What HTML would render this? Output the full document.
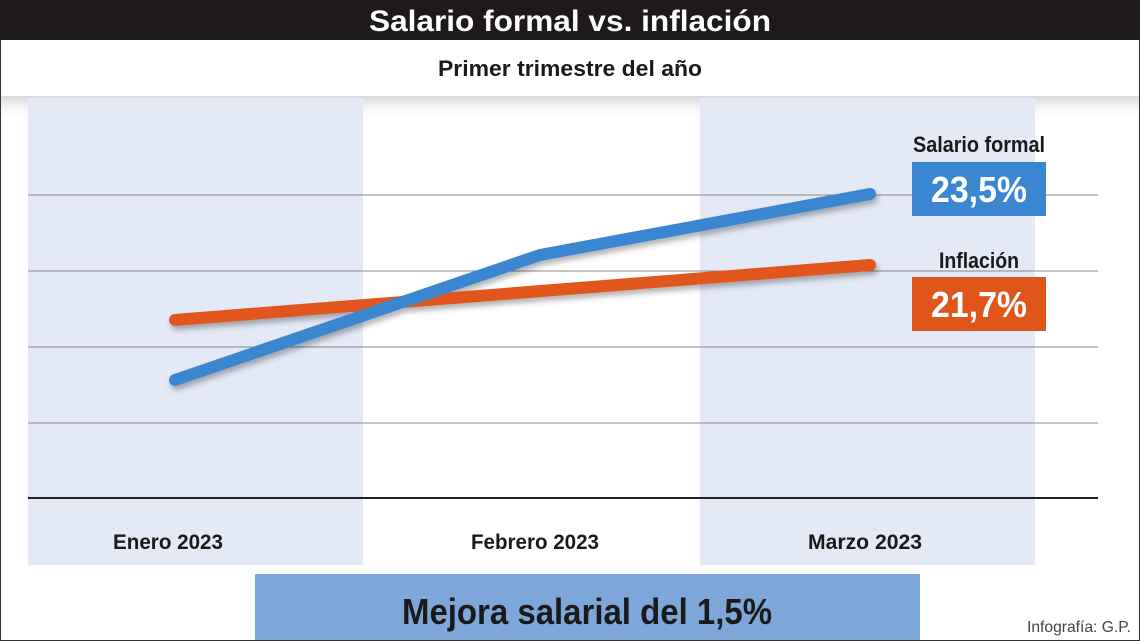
<!DOCTYPE html>
<html><head><meta charset="utf-8"><style>
html,body{margin:0;padding:0;background:#fff;}
svg{display:block}
text{font-family:"Liberation Sans Narrow","Liberation Sans",sans-serif;font-weight:bold;}
</style></head><body>
<svg width="1140" height="641" viewBox="0 0 1140 641">
<defs>
<linearGradient id="sh" x1="0" y1="0" x2="0" y2="1"><stop offset="0" stop-color="#d8d8d8"/><stop offset="1" stop-color="#fff" stop-opacity="0"/></linearGradient>
<filter id="ds" x="-10%" y="-50%" width="120%" height="200%"><feDropShadow dx="2" dy="4" stdDeviation="3" flood-color="#000" flood-opacity="0.3"/></filter>
</defs>
<rect x="0" y="0" width="1140" height="641" fill="#fff"/>
<rect x="0" y="0" width="1140" height="40" fill="#1e1a1a"/>
<text x="570" y="31" text-anchor="middle" fill="#fff" font-size="30" textLength="402" lengthAdjust="spacingAndGlyphs">Salario formal vs. inflación</text>
<text x="570" y="76" text-anchor="middle" fill="#1a1a1a" font-size="22" textLength="264" lengthAdjust="spacingAndGlyphs">Primer trimestre del año</text>
<rect x="1" y="96" width="1138" height="24" fill="url(#sh)"/>
<rect x="28" y="98" width="335" height="467" fill="#e3e9f5"/>
<rect x="700" y="98" width="335" height="467" fill="#e3e9f5"/>
<g stroke="#8a8a8a" stroke-width="1">
<line x1="28" y1="195" x2="1098" y2="195"/>
<line x1="28" y1="271" x2="1098" y2="271"/>
<line x1="28" y1="347" x2="1098" y2="347"/>
<line x1="28" y1="423" x2="1098" y2="423"/>
</g>
<line x1="28" y1="498" x2="1098" y2="498" stroke="#222" stroke-width="2"/>
<g filter="url(#ds)" fill="none" stroke-linecap="round" stroke-linejoin="round" stroke-width="12">
<polyline points="175,320 870,265" stroke="#e0561a"/>
<polyline points="175,380 540,255 870,194" stroke="#3a86d0"/>
</g>
<text x="979" y="152" text-anchor="middle" fill="#1a1a1a" font-size="22" textLength="132" lengthAdjust="spacingAndGlyphs">Salario formal</text>
<rect x="912" y="162" width="134" height="54" fill="#3a86d0"/>
<text x="979" y="202" text-anchor="middle" fill="#fff" font-size="36" textLength="96" lengthAdjust="spacingAndGlyphs">23,5%</text>
<text x="979" y="268" text-anchor="middle" fill="#1a1a1a" font-size="22" textLength="80" lengthAdjust="spacingAndGlyphs">Inflación</text>
<rect x="912" y="277" width="134" height="54" fill="#e0561a"/>
<text x="979" y="317" text-anchor="middle" fill="#fff" font-size="36" textLength="96" lengthAdjust="spacingAndGlyphs">21,7%</text>
<text x="168" y="549" text-anchor="middle" fill="#1a1a1a" font-size="21" textLength="110" lengthAdjust="spacingAndGlyphs">Enero 2023</text>
<text x="535" y="549" text-anchor="middle" fill="#1a1a1a" font-size="21" textLength="128" lengthAdjust="spacingAndGlyphs">Febrero 2023</text>
<text x="865" y="549" text-anchor="middle" fill="#1a1a1a" font-size="21" textLength="114" lengthAdjust="spacingAndGlyphs">Marzo 2023</text>
<rect x="255" y="574" width="665" height="67" fill="#7da7d9"/>
<text x="587" y="624" text-anchor="middle" fill="#1a1a1a" font-size="36" textLength="370" lengthAdjust="spacingAndGlyphs">Mejora salarial del 1,5%</text>
<text x="1131" y="632" text-anchor="end" fill="#444" font-size="16" font-weight="normal" style="font-weight:normal" textLength="104" lengthAdjust="spacingAndGlyphs">Infografía: G.P.</text>
<line x1="0.5" y1="40" x2="0.5" y2="641" stroke="#333" stroke-width="1"/>
<line x1="1139.5" y1="40" x2="1139.5" y2="641" stroke="#333" stroke-width="1"/>
<line x1="0" y1="640.5" x2="1140" y2="640.5" stroke="#333" stroke-width="1"/>
</svg>
</body></html>
